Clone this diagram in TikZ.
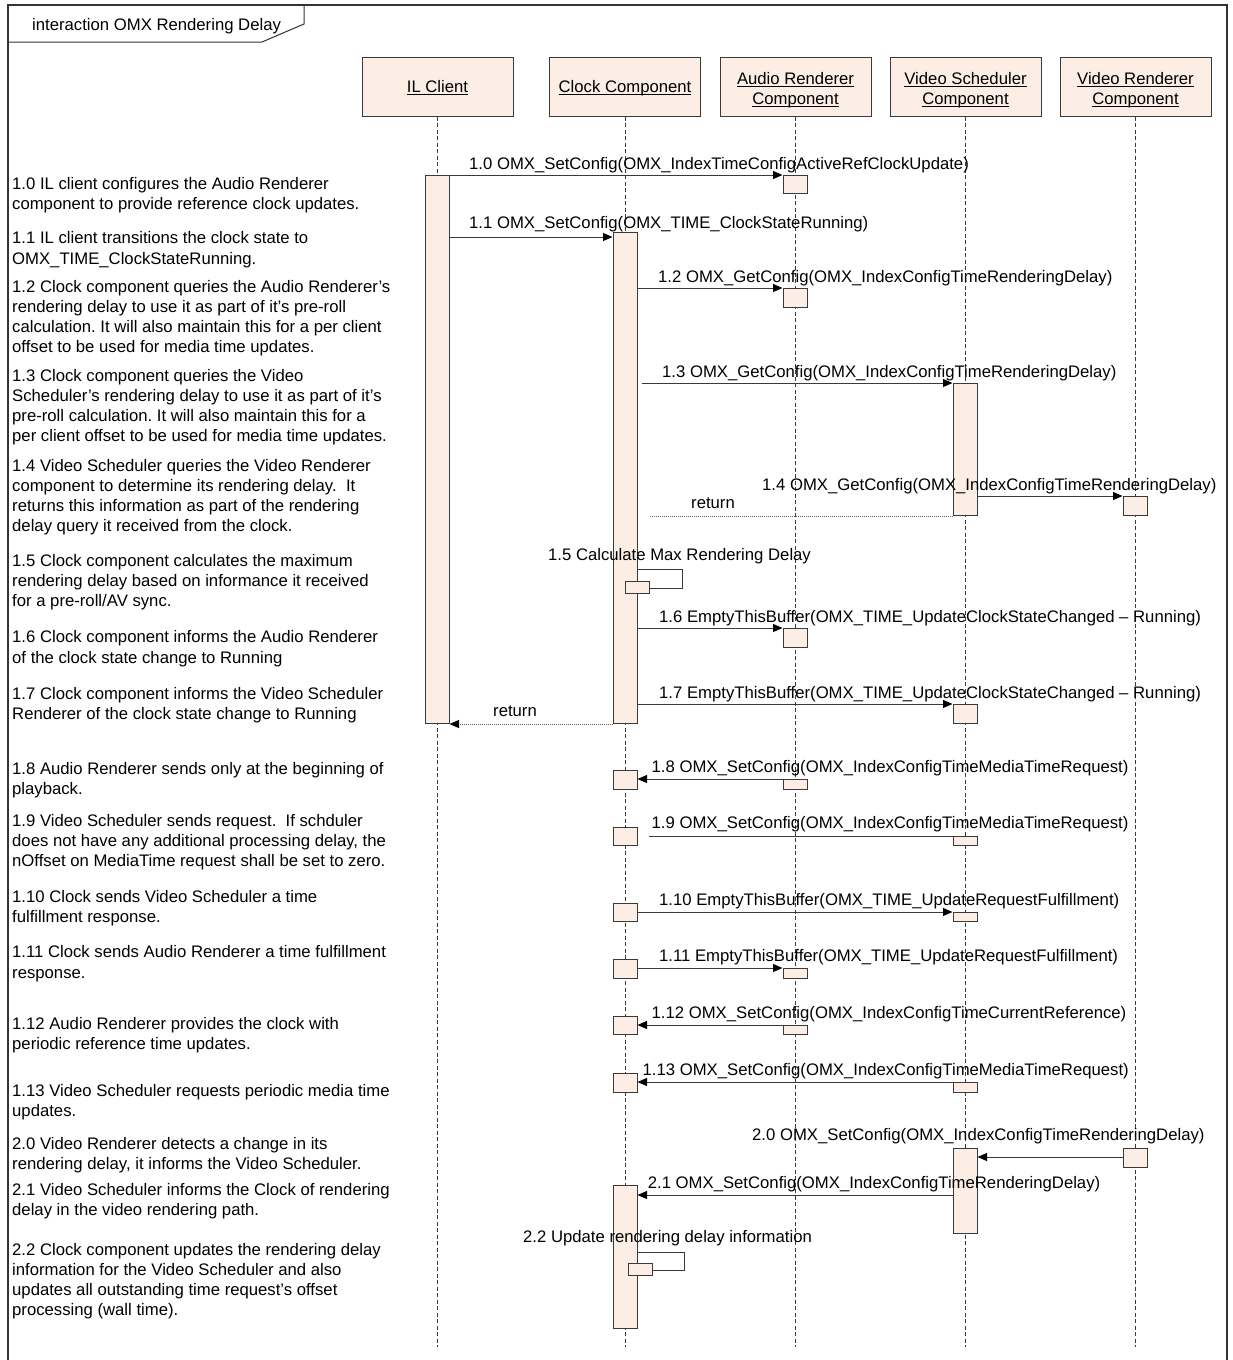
\documentclass[tikz,border=0pt]{standalone}
\usepackage{fontspec}
\setmainfont{Liberation Sans}
\usetikzlibrary{arrows.meta}
\definecolor{peach}{HTML}{FCEEE4}
\definecolor{ink}{HTML}{3A3A3A}
\newcommand\uln[1]{\setbox0\hbox{#1}\rlap{\rule[-2.4pt]{\wd0}{0.9pt}}\box0}
\frenchspacing
\begin{document}
\begin{tikzpicture}[x=1pt,y=-1pt,
  every node/.style={font=\fontsize{16.7}{20.2}\selectfont\frenchspacing, inner sep=0pt, text=black},
  head/.style={draw=ink, fill=peach, line width=1pt, minimum width=151pt, minimum height=59pt},
  htext/.style={align=center},
  act/.style={draw=ink, fill=peach, line width=1pt, minimum width=24pt, anchor=north},
  msg/.style={draw=ink, line width=1pt, -{Triangle[length=9.5pt,width=8pt,color=black]}},
  plainmsg/.style={draw=ink, line width=1pt},
  ret/.style={draw=ink!80, line width=1pt, densely dotted},
  life/.style={draw=ink, line width=0.8pt, dash pattern=on 4pt off 2.5pt},
  lbl/.style={anchor=base west},
  note/.style={anchor=north west, align=left},
  frm/.style={draw=black!80, line width=1.2pt}]
\useasboundingbox (0,0) rectangle (1233,1360);
\fill[white] (0,0) rectangle (1233,1360);

% frame
\coordinate (fbl) at (8,1360);
\coordinate (ftl) at (8,5);
\coordinate (ftr) at (1227,5);
\coordinate (fbr) at (1227,1360);
\draw[frm] (fbl) -- (ftl) -- (ftr) -- (fbr);
\coordinate (t1) at (304,5);
\coordinate (t2) at (304,24);
\coordinate (t3) at (262,42);
\coordinate (t4) at (8,42);
\draw[frm, line width=1pt] (t1) -- (t2) -- (t3) -- (t4);
\node[anchor=base west] (title) at (32,30) {interaction OMX Rendering Delay};

% heads
\node[head] (il) at (437.5,86.5) {};
\node[head] (ck) at (625,86.5) {};
\node[head] (au) at (795.5,86.5) {};
\node[head] (vs) at (965.5,86.5) {};
\node[head] (vr) at (1135.5,86.5) {};
\node[htext] (ilt) at ([yshift=-1.5pt]il.center) {\uln{IL Client}};
\node[htext] (ckt) at ([yshift=-1.5pt]ck.center) {\uln{Clock Component}};
\node[htext] (aut) at ([yshift=-3.5pt]au.center) {\uln{Audio Renderer}\\\uln{Component}};
\node[htext] (vst) at ([yshift=-3.5pt]vs.center) {\uln{Video Scheduler}\\\uln{Component}};
\node[htext] (vrt) at ([yshift=-3.5pt]vr.center) {\uln{Video Renderer}\\\uln{Component}};

% lifelines
\coordinate (ilE) at (437.5,1347);
\coordinate (ckE) at (625,1347);
\coordinate (auE) at (795.5,1347);
\coordinate (vsE) at (965.5,1347);
\coordinate (vrE) at (1135.5,1347);
\draw[life] (il.south) -- (ilE);
\draw[life] (ck.south) -- (ckE);
\draw[life] (au.south) -- (auE);
\draw[life] (vs.south) -- (vsE);
\draw[life] (vr.south) -- (vrE);

% activations
\node[act, minimum height=548pt] (ilA) at (437,175) {};
\node[act, minimum height=491pt] (ckA) at (625,232) {};
\node[act, minimum height=18pt] (au10) at (795,175) {};
\node[act, minimum height=19pt] (au12) at (795,288) {};
\node[act, minimum height=132pt] (vs13) at (965,383) {};
\node[act, minimum height=19pt] (vr14) at (1135,496) {};
\node[act, minimum height=12pt] (ck15) at (637,581) {};
\node[act, minimum height=19pt] (au16) at (795,628) {};
\node[act, minimum height=19pt] (vs17) at (965,704) {};
\node[act, minimum height=19pt] (ck18) at (625,770) {};
\node[act, minimum height=10pt] (au18) at (795,779) {};
\node[act, minimum height=18pt] (ck19) at (625,827) {};
\node[act, minimum height=9pt] (vs19) at (965,836) {};
\node[act, minimum height=18pt] (ck110) at (625,903) {};
\node[act, minimum height=9pt] (vs110) at (965,912) {};
\node[act, minimum height=19pt] (ck111) at (625,959) {};
\node[act, minimum height=10pt] (au111) at (795,968) {};
\node[act, minimum height=18pt] (ck112) at (625,1016) {};
\node[act, minimum height=9pt] (au112) at (795,1025) {};
\node[act, minimum height=19pt] (ck113) at (625,1073) {};
\node[act, minimum height=10pt] (vs113) at (965,1082) {};
\node[act, minimum height=19pt] (vr20) at (1135,1148) {};
\node[act, minimum height=85pt] (vs20) at (965,1148) {};
\node[act, minimum height=143pt] (ck21) at (625,1185) {};
\node[act, minimum height=12pt] (ck22) at (640,1263) {};

% messages
\draw[msg] (ilA.east |- au10.north) -- (au10.north west);
\draw[msg] (ilA.east |- 0,237) -- (ckA.west |- 0,237);
\draw[msg] (ckA.east |- au12.north) -- (au12.north west);
\draw[msg] ([xshift=4pt]ckA.east |- vs13.north) -- (vs13.north west);
\draw[msg] (vs13.east |- vr14.north) -- (vr14.north west);
\draw[ret] (vs13.south west) -- ([xshift=11pt]ckA.east |- vs13.south);
\coordinate (s15a) at (682,569);
\coordinate (s15b) at (682,588);
\draw[plainmsg] (ckA.east |- s15a) -- (s15a) -- (s15b) -- (ck15.east |- s15b);
\draw[msg] (ckA.east |- au16.north) -- (au16.north west);
\draw[msg] (ckA.east |- vs17.north) -- (vs17.north west);
\draw[ret, -{Triangle[length=9.5pt,width=8pt,color=black]}] (ckA.south west) -- (ilA.south east);
\draw[msg] (au18.north west) -- (ck18.east |- au18.north);
\draw[plainmsg] (vs19.north west) -- ([xshift=11pt]ck19.east |- vs19.north);
\draw[msg] (ck110.east |- vs110.north) -- (vs110.north west);
\draw[msg] (ck111.east |- au111.north) -- (au111.north west);
\draw[msg] (au112.north west) -- (ck112.east |- au112.north);
\draw[msg] (vs113.north west) -- (ck113.east |- vs113.north);
\draw[msg] (vr20.west |- 0,1157) -- (vs20.east |- 0,1157);
\draw[msg] (vs20.west |- 0,1195) -- (ck21.east |- 0,1195);
\coordinate (s22a) at (684,1252);
\coordinate (s22b) at (684,1270);
\draw[plainmsg] (ck21.east |- s22a) -- (s22a) -- (s22b) -- (ck22.east |- s22b);

% message labels
\node[lbl] (l10) at (469,169) {1.0 OMX\_SetConfig(OMX\_IndexTimeConfigActiveRefClockUpdate)};
\node[lbl] (l11) at (469,228) {1.1 OMX\_SetConfig(OMX\_TIME\_ClockStateRunning)};
\node[lbl] (l12) at (658,282) {1.2 OMX\_GetConfig(OMX\_IndexConfigTimeRenderingDelay)};
\node[lbl] (l13) at (662,377) {1.3 OMX\_GetConfig(OMX\_IndexConfigTimeRenderingDelay)};
\node[lbl] (l14) at (762,490) {1.4 OMX\_GetConfig(OMX\_IndexConfigTimeRenderingDelay)};
\node[lbl] (r14) at (691,508) {return};
\node[lbl] (l15) at (548,560) {1.5 Calculate Max Rendering Delay};
\node[lbl] (l16) at (659,622) {1.6 EmptyThisBuffer(OMX\_TIME\_UpdateClockStateChanged – Running)};
\node[lbl] (l17) at (659,698) {1.7 EmptyThisBuffer(OMX\_TIME\_UpdateClockStateChanged – Running)};
\node[lbl] (r17) at (493,716) {return};
\node[lbl] (l18) at (651.5,772) {1.8 OMX\_SetConfig(OMX\_IndexConfigTimeMediaTimeRequest)};
\node[lbl] (l19) at (651.5,828) {1.9 OMX\_SetConfig(OMX\_IndexConfigTimeMediaTimeRequest)};
\node[lbl] (l110) at (659,905) {1.10 EmptyThisBuffer(OMX\_TIME\_UpdateRequestFulfillment)};
\node[lbl] (l111) at (659,961) {1.11 EmptyThisBuffer(OMX\_TIME\_UpdateRequestFulfillment)};
\node[lbl] (l112) at (651.5,1018) {1.12 OMX\_SetConfig(OMX\_IndexConfigTimeCurrentReference)};
\node[lbl] (l113) at (642.5,1075) {1.13 OMX\_SetConfig(OMX\_IndexConfigTimeMediaTimeRequest)};
\node[lbl] (l20) at (752,1140) {2.0 OMX\_SetConfig(OMX\_IndexConfigTimeRenderingDelay)};
\node[lbl] (l21) at (647.7,1188) {2.1 OMX\_SetConfig(OMX\_IndexConfigTimeRenderingDelay)};
\node[lbl] (l22) at (523,1242) {2.2 Update rendering delay information};

% notes
\node[note] (n10) at (12,175.1) {\strut 1.0 IL client configures the Audio Renderer\\\strut component to provide reference clock updates.};
\node[note] (n11) at (12,229.5) {\strut 1.1 IL client transitions the clock state to\\\strut OMX\_TIME\_ClockStateRunning.};
\node[note] (n12) at (12,277.8) {\strut 1.2 Clock component queries the Audio Renderer’s\\\strut rendering delay to use it as part of it’s pre-roll\\\strut calculation. It will also maintain this for a per client\\\strut offset to be used for media time updates.};
\node[note] (n13) at (12,366.8) {\strut 1.3 Clock component queries the Video\\\strut Scheduler’s rendering delay to use it as part of it’s\\\strut pre-roll calculation. It will also maintain this for a\\\strut per client offset to be used for media time updates.};
\node[note] (n14) at (12,456.8) {\strut 1.4 Video Scheduler queries the Video Renderer\\\strut component to determine its rendering delay.\ \ It\\\strut returns this information as part of the rendering\\\strut delay query it received from the clock.};
\node[note] (n15) at (12,551.8) {\strut 1.5 Clock component calculates the maximum\\\strut rendering delay based on informance it received\\\strut for a pre-roll/AV sync.};
\node[note] (n16) at (12,628.5) {\strut 1.6 Clock component informs the Audio Renderer\\\strut of the clock state change to Running};
\node[note] (n17) at (12,684.8) {\strut 1.7 Clock component informs the Video Scheduler\\\strut Renderer of the clock state change to Running};
\node[note] (n18) at (12,759.8) {\strut 1.8 Audio Renderer sends only at the beginning of\\\strut playback.};
\node[note] (n19) at (12,811.8) {\strut 1.9 Video Scheduler sends request.\ \ If schduler\\\strut does not have any additional processing delay, the\\\strut nOffset on MediaTime request shall be set to zero.};
\node[note] (n110) at (12,887.8) {\strut 1.10 Clock sends Video Scheduler a time\\\strut fulfillment response.};
\node[note] (n111) at (12,943.5) {\strut 1.11 Clock sends Audio Renderer a time fulfillment\\\strut response.};
\node[note] (n112) at (12,1014.8) {\strut 1.12 Audio Renderer provides the clock with\\\strut periodic reference time updates.};
\node[note] (n113) at (12,1081.8) {\strut 1.13 Video Scheduler requests periodic media time\\\strut updates.};
\node[note] (n20) at (12,1134.8) {\strut 2.0 Video Renderer detects a change in its\\\strut rendering delay, it informs the Video Scheduler.};
\node[note] (n21) at (12,1180.8) {\strut 2.1 Video Scheduler informs the Clock of rendering\\\strut delay in the video rendering path.};
\node[note] (n22) at (12,1240.8) {\strut 2.2 Clock component updates the rendering delay\\\strut information for the Video Scheduler and also\\\strut updates all outstanding time request’s offset\\\strut processing (wall time).};
\end{tikzpicture}
\end{document}
